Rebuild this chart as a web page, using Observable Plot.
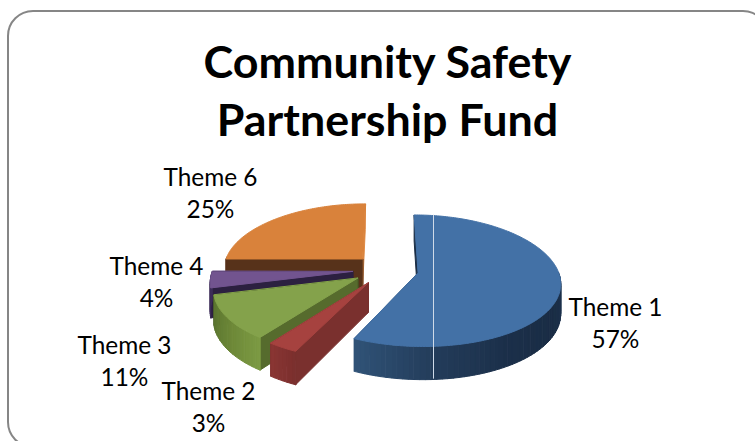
<!DOCTYPE html>
<html><head><meta charset="utf-8">
<script src="https://cdn.jsdelivr.net/npm/d3@7"></script>
<script src="https://cdn.jsdelivr.net/npm/@observablehq/plot@0.6"></script>
<style>
html,body{margin:0;padding:0;background:#fff;overflow:hidden}
#frame{position:absolute;left:7px;top:10px;width:762px;height:438px;border:2.5px solid #868686;border-radius:26px;box-sizing:border-box}
#title{position:absolute;left:10px;top:0;width:755px;height:160px;margin:0;text-align:center;font:700 44.8px/58px Lato,sans-serif;color:#000;padding-top:32px;box-sizing:border-box}
#chart{position:absolute;left:0;top:160px}
</style></head><body>
<div id="frame"></div>
<h1 id="title">Community Safety<br>Partnership Fund</h1>
<div id="chart"></div>
<script>
const categories = ["Theme 1","Theme 2","Theme 3","Theme 4","Theme 6"];
const values = [57,3,11,4,25];
const topColors = ["#4371a6","#a6423f","#84a24b","#72548f","#d9823b"];
const cutStart = ["#1a2d45","#7a302e","#566b2d","#2c2040","#57321a"];
const cutEnd = ["#2f5277","#6b2a28","#2f3d1a","#2c2040","#e08c48"];
const rimStops = [
  ["#1e3552","#1a2d45","#1b2f49","#233c5a","#305377"],
  ["#7a2f2d","#8a3533"],
  ["#7c9a43","#6a8536","#5a7430"],
  ["#3d2c58","#3d2c58"],
  ["#57321a","#57321a"]
];
const labelX = [615,208,124,156,210];
const labelY = [308,392,346,267,178];
const seamX = [433];

const cx=385, cy=269, rx=144, ry=66, R=0.97, perspY=0.123, perspX=0.14, explode=0.23, depth=29;
const rad = d=>d*Math.PI/180;
function project(u,v,drop=0){
  const sy=1/(1-perspY*v), sx=1/(1-perspX*v);
  return {x:cx+rx*u*sx, y:cy+ry*v*sy+drop*sy};
}
const total=d3.sum(values);
let acc=0;
const slices=values.map((v,i)=>{
  const a0=acc/total*360; acc+=v; const a1=acc/total*360; const m=(a0+a1)/2;
  return {i,a0,a1,du:Math.sin(rad(m))*explode,dv:-Math.cos(rad(m))*explode};
});
const pt=(s,a,r=R,drop=0)=>project(s.du+r*Math.sin(rad(a)),s.dv-r*Math.cos(rad(a)),drop);

const polys=[]; let id=0;
function poly(points,color){const k=id++; points.forEach(p=>polys.push({x:p.x,y:p.y,k,color}));}
// painter's order: back slice first, then round towards the front, Theme 1 last
for(const i of [4,3,2,1,0]){
  const s=slices[i];
  poly([pt(s,s.a1,0),pt(s,s.a1),pt(s,s.a1,R,depth),pt(s,s.a1,0,depth)],cutEnd[i]);
  poly([pt(s,s.a0,0),pt(s,s.a0),pt(s,s.a0,R,depth),pt(s,s.a0,0,depth)],cutStart[i]);
  const n=Math.ceil((s.a1-s.a0)/2);
  const rimCol=d3.piecewise(d3.interpolateRgb,rimStops[i]);
  const vis0=Math.max(s.a0,90), vis1=Math.min(s.a1,270);
  for(let j=0;j<n;j++){
    const a=s.a0+(s.a1-s.a0)*j/n, b=s.a0+(s.a1-s.a0)*(j+1)/n, m=(a+b)/2;
    if(Math.cos(rad(m))>0.02) continue;
    const t=Math.min(1,Math.max(0,(m-vis0)/(vis1-vis0)));
    poly([pt(s,a),pt(s,b),pt(s,b,R,depth),pt(s,a,R,depth)],d3.color(rimCol(t)).formatHex());
  }
  const top=[pt(s,s.a0,0)];
  for(let j=0;j<=n*2;j++) top.push(pt(s,s.a0+(s.a1-s.a0)*j/(n*2)));
  poly(top,topColors[i]);
}
const s0=slices[0];
const seamBack=pt(s0,6), seamFront=pt(s0,174,R,depth);

const labels=categories.flatMap((c,i)=>[
  {x:labelX[i],y:labelY[i],t:c},
  {x:labelX[i],y:labelY[i]+32,t:values[i]+"%"}
]);

const chart=Plot.plot({
  width:755,height:281,margin:0,
  style:{background:"transparent",overflow:"visible"},
  x:{domain:[0,755],axis:null},
  y:{domain:[441,160],axis:null},
  color:{type:"identity"},
  marks:[
    Plot.line(polys,{x:"x",y:"y",z:"k",fill:"color",stroke:"color",strokeWidth:1,curve:"linear-closed"}),
    Plot.ruleX(seamX,{x:d=>d,y1:seamBack.y,y2:seamFront.y,stroke:"#cfdae8",strokeWidth:1}),
    Plot.text(labels,{x:"x",y:"y",text:"t",fontSize:24.4,fontFamily:"Lato, sans-serif",fill:"#000"})
  ]
});
document.getElementById("chart").appendChild(chart);
</script>
</body></html>
